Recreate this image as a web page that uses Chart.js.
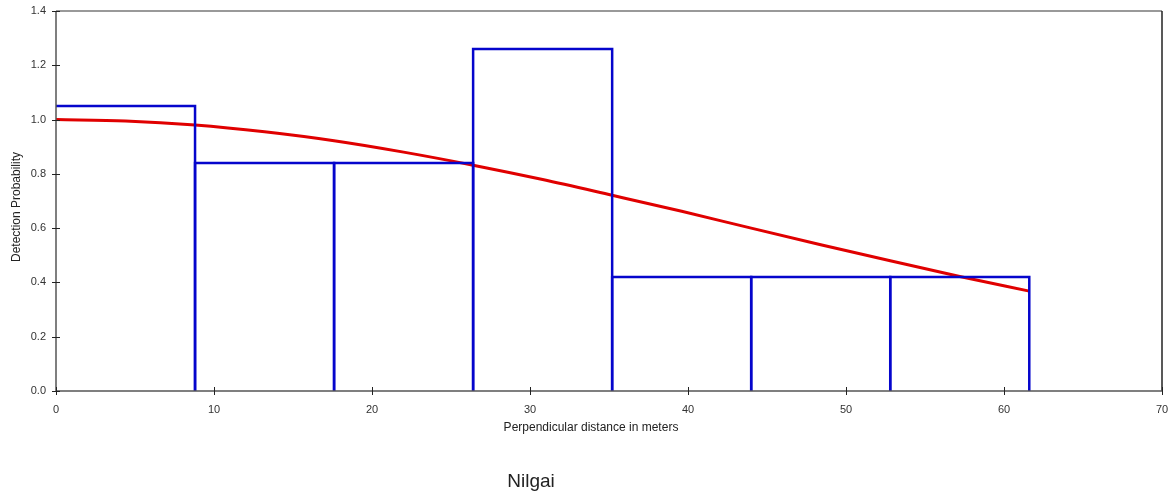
<!DOCTYPE html>
<html>
<head>
<meta charset="utf-8">
<script src="https://cdn.jsdelivr.net/npm/chart.js@4.4.1/dist/chart.umd.min.js"></script>
<style>
  html, body { margin: 0; padding: 0; background: #fff; }
  #wrap { width: 1176px; height: 497px; position: relative; }
</style>
</head>
<body>
<div id="wrap"><canvas id="detChart"></canvas></div>
<script>
/* =========================
   DATA
========================= */

// histogram bins (perpendicular distance, m) and scaled heights
const binEdges = [0, 8.8, 17.6, 26.4, 35.2, 44.0, 52.8, 61.6];
const binHeights = [1.05, 0.84, 0.84, 1.26, 0.42, 0.42, 0.42];

// fitted detection function, read at 4.4 m steps
const fitDistance = [0, 4.4, 8.8, 13.2, 17.6, 22.0, 26.4, 30.8, 35.2, 39.6, 44.0, 48.4, 52.8, 57.2, 61.6];
const fitProbability = [1.000, 0.995, 0.980, 0.955, 0.922, 0.880, 0.832, 0.779, 0.721, 0.662, 0.600, 0.539, 0.480, 0.422, 0.368];

const xTicks = [0, 10, 20, 30, 40, 50, 60, 70];
const yTicks = [0.0, 0.2, 0.4, 0.6, 0.8, 1.0, 1.2, 1.4];

const speciesName = "Nilgai";
const xTitle = "Perpendicular distance in meters";
const yTitle = "Detection Probability";

const BLUE = "#0505cc";
const RED = "#e00000";
const AXIS = "#555";

/* =========================
   DATASETS
========================= */

// each bin as an open box: left side, top, right side
// (the first bin's left side sits on the y axis, so it is left out)
const binSets = binHeights.map((h, i) => {
  const pts = [
    { x: binEdges[i], y: 0 },
    { x: binEdges[i], y: h },
    { x: binEdges[i + 1], y: h },
    { x: binEdges[i + 1], y: 0 }
  ];
  return {
    data: i === 0 ? pts.slice(1) : pts,
    borderColor: BLUE,
    borderWidth: 2.5,
    pointRadius: 0,
    tension: 0,
    fill: false
  };
});

const fitSet = {
  data: fitDistance.map((d, i) => ({ x: d, y: fitProbability[i] })),
  borderColor: RED,
  borderWidth: 3,
  pointRadius: 0,
  cubicInterpolationMode: "monotone",
  fill: false
};

/* =========================
   PLUGINS
========================= */

// plot frame, ticks crossing the axes, and the free-standing labels
const frameAndLabels = {
  id: "frameAndLabels",
  afterDatasetsDraw(chart) {
    const { ctx, chartArea: a, scales } = chart;
    ctx.save();

    ctx.strokeStyle = "#777";
    ctx.lineWidth = 1.5;
    ctx.beginPath();
    ctx.moveTo(a.left, a.top);
    ctx.lineTo(a.right, a.top);
    ctx.stroke();
    ctx.strokeStyle = "#222";
    ctx.beginPath();
    ctx.moveTo(a.right, a.top);
    ctx.lineTo(a.right, a.bottom);
    ctx.stroke();

    ctx.strokeStyle = AXIS;
    ctx.lineWidth = 1.5;
    ctx.beginPath();
    ctx.moveTo(a.left, a.top);
    ctx.lineTo(a.left, a.bottom);
    ctx.lineTo(a.right, a.bottom);
    ctx.stroke();

    // tick marks
    ctx.strokeStyle = "#222";
    ctx.lineWidth = 1;
    yTicks.forEach(v => {
      const py = Math.round(scales.y.getPixelForValue(v)) + 0.5;
      ctx.beginPath();
      ctx.moveTo(a.left - 4, py);
      ctx.lineTo(a.left + 4, py);
      ctx.stroke();
    });
    xTicks.forEach(v => {
      const px = Math.round(scales.x.getPixelForValue(v)) + 0.5;
      ctx.beginPath();
      ctx.moveTo(px, a.bottom - 4);
      ctx.lineTo(px, a.bottom + 4);
      ctx.stroke();
    });

    ctx.fillStyle = "#222";
    ctx.textAlign = "center";
    ctx.textBaseline = "middle";

    ctx.font = "12px 'Liberation Sans', Arial, sans-serif";
    ctx.fillText(xTitle, 591, 428);

    ctx.font = "19px 'Liberation Sans', Arial, sans-serif";
    ctx.fillText(speciesName, 531, 482);

    ctx.font = "12px 'Liberation Sans', Arial, sans-serif";
    ctx.translate(17, 207);
    ctx.rotate(-Math.PI / 2);
    ctx.fillText(yTitle, 0, 0);

    ctx.restore();
  }
};

/* =========================
   CHART
========================= */

const tickFont = { family: "'Liberation Sans', Arial, sans-serif", size: 11 };

new Chart(document.getElementById("detChart"), {
  type: "line",
  data: { datasets: [...binSets, fitSet] },
  options: {
    responsive: true,
    maintainAspectRatio: false,
    animation: false,
    layout: { padding: { top: 11, right: 14, left: 0, bottom: 0 } },
    plugins: {
      legend: { display: false },
      tooltip: { enabled: false }
    },
    scales: {
      x: {
        type: "linear",
        min: 0,
        max: 70,
        afterBuildTicks: s => { s.ticks = xTicks.map(v => ({ value: v })); },
        afterFit: s => {
          s.height = 106;
          s.paddingLeft = 0;
          s.paddingRight = 0;
        },
        border: { display: false },
        grid: { display: false, drawOnChartArea: false },
        ticks: { font: tickFont, color: "#333", padding: 4, maxRotation: 0 }
      },
      y: {
        min: 0,
        max: 1.4,
        afterBuildTicks: s => { s.ticks = yTicks.map(v => ({ value: v })); },
        afterFit: s => {
          s.width = 56;
          s.paddingTop = 0;
          s.paddingBottom = 0;
        },
        border: { display: false },
        grid: { display: false, drawOnChartArea: false },
        ticks: {
          font: tickFont,
          color: "#333",
          padding: 2,
          callback: v => Number(v).toFixed(1)
        }
      }
    }
  },
  plugins: [frameAndLabels]
});
</script>
</body>
</html>
